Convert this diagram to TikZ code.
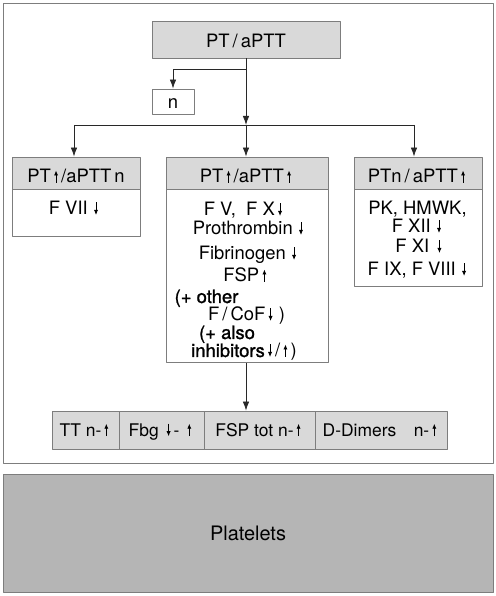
\documentclass[tikz,border=0pt]{standalone}
\usepackage{fontspec}
\setmainfont{TeX Gyre Heros}
\newfontfamily\medfont[FakeBold=1.2]{TeX Gyre Heros}
\usepackage{tikz}
\usetikzlibrary{arrows.meta, positioning}
\definecolor{headcol}{RGB}{217,217,217}
\definecolor{platecol}{RGB}{181,181,181}
\definecolor{rulecol}{RGB}{125,125,125}
\definecolor{linecol}{RGB}{40,40,40}
\newcommand\arrup{\,\tikz[baseline]\draw[black,line width=.9bp,-{Latex[length=5bp,width=4.2bp]}] (0,0) -- (0,12.5bp);\,}
\newcommand\arrdn{\,\tikz[baseline]\draw[black,line width=.9bp,-{Latex[length=5bp,width=4.2bp]}] (0,12.5bp) -- (0,0);\,}

\begin{document}
\begin{tikzpicture}[>={Latex[length=9bp,width=6.5bp]}, line join=bevel,
  box/.style={draw=rulecol, line width=.8bp, inner sep=0pt, font=\fontsize{18.5}{20}\selectfont},
  headbox/.style={box, fill=headcol, minimum height=32bp, text height=20bp, text depth=0bp},
  bodybox/.style={box, fill=white, anchor=north},
  cellbox/.style={box, fill=headcol, minimum height=38bp, text height=12.5bp, text depth=0bp, font=\fontsize{17.5}{20}\selectfont},
  txt/.style={inner sep=0pt, anchor=base, font=\fontsize{18.5}{20}\selectfont},
  edge/.style={draw=linecol, line width=.8bp}]
  \useasboundingbox (0,0) rectangle (496bp,596bp);
%%
  % Frame
  \draw[rulecol, line width=.9bp] (3bp,133bp) rectangle (493bp,593bp);
  % Node: top
  \node[headbox, minimum width=188bp, minimum height=37bp, text height=15.6bp] (top) at (246bp,556.5bp) {PT\,/\,aPTT};
  % Node: n
  \node[box, fill=white, minimum width=42bp, minimum height=25bp, text height=13.6bp, text depth=0bp] (n) at (173bp,494.5bp) {n};
  % Node: left
  \node[headbox, minimum width=128bp] (lhead) at (76bp,423bp) {PT\arrup/aPTT\,n};
  \node[bodybox, minimum width=128bp, minimum height=47bp] (lbody) at (lhead.south) {};
  \node[txt] (l1) at (75bp,381bp) {F VII\,\arrdn};
  % Node: centre
  \node[headbox, minimum width=162bp] (chead) at (247bp,423bp) {PT\arrup/aPTT\arrup};
  \node[bodybox, minimum width=162bp, minimum height=173bp] (cbody) at (chead.south) {};
  \node[txt] (c1) at (244.5bp,380bp) {F V,\ \ F X\arrdn};
  \node[txt] (c2) at (249.5bp,361bp) {Prothrombin\,\arrdn};
  \node[txt] (c3) at (249bp,336bp) {Fibrinogen\,\arrdn};
  \node[txt] (c4) at (246.5bp,314bp) {FSP\arrup};
  \node[txt] (c5) at (206.5bp,293bp) {\medfont (+ other};
  \node[txt] (c6) at (246.5bp,275bp) {F\,/\,CoF\arrdn\,)};
  \node[txt] (c7) at (227bp,257bp) {\medfont (+ also};
  \node[txt] (c8) at (244bp,239bp) {{\medfont inhibitors}\arrdn/\arrup)};
  % Node: right
  \node[headbox, minimum width=128bp] (rhead) at (418bp,423bp) {PTn\,/\,aPTT\arrup};
  \node[bodybox, minimum width=128bp, minimum height=97bp] (rbody) at (rhead.south) {};
  \node[txt] (r1) at (417.5bp,381bp) {PK, HMWK,};
  \node[txt] (r2) at (418bp,363bp) {F XII\,\arrdn};
  \node[txt] (r3) at (420bp,343bp) {F XI\ \arrdn};
  \node[txt] (r4) at (418.5bp,320bp) {F IX, F VIII\,\arrdn};
  % Node: tests
  \node[cellbox, minimum width=67bp] (tt) at (85.5bp,166bp) {TT n-\arrup};
  \node[cellbox, minimum width=85bp] (fbg) at (161.5bp,166bp) {Fbg \arrdn- \arrup};
  \node[cellbox, minimum width=111bp] (fsp) at (259.5bp,166bp) {FSP tot n-\arrup};
  \node[cellbox, minimum width=132bp] (dd) at (381bp,166bp) {D-Dimers\quad n-\arrup};
  % Node: platelets
  \node[box, fill=platecol, minimum width=490bp, minimum height=118bp, font=\fontsize{20}{22}\selectfont] (plt) at (248bp,63bp) {Platelets};
%%
  \coordinate (fork) at (246bp,527bp);
  \coordinate (split) at (246bp,471bp);
  \coordinate (splitL) at (74bp,471bp);
  \coordinate (splitR) at (414bp,471bp);
  % Edge: top -- n
  \draw[edge, ->] (top.south) -- (split);
  \draw[edge, ->] (fork) -| (n.north);
  % Edge: split -- heads
  \draw[edge] (splitL) -- (splitR);
  \draw[edge, ->] (splitL) -- (splitL |- lhead.north);
  \draw[edge, ->] (split) -- (split |- chead.north);
  \draw[edge, ->] (splitR) -- (splitR |- rhead.north);
  % Edge: centre -- tests
  \draw[edge, ->] (cbody.south -| split) -- (split |- fsp.north);
%
\end{tikzpicture}
\end{document}
